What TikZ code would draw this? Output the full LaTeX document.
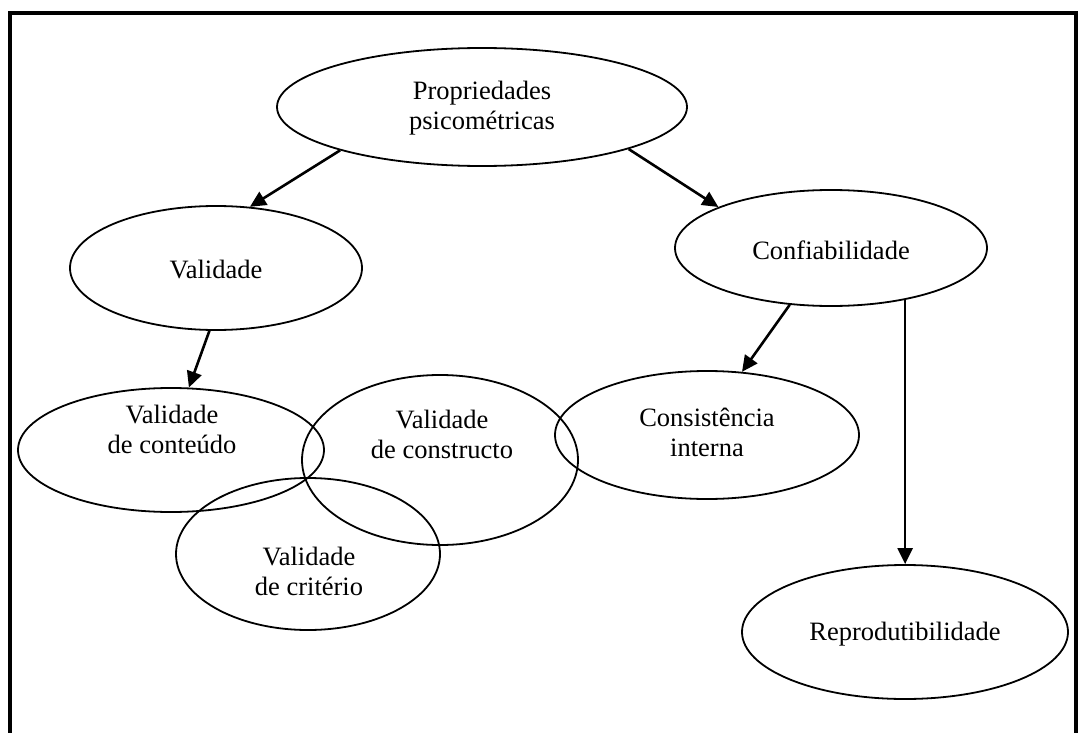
\documentclass[tikz,border=0pt]{standalone}
\usepackage{fontspec}
\setmainfont{Liberation Serif}
\usetikzlibrary{shapes.geometric,arrows.meta}

\tikzset{
  oval/.style={ellipse, draw, line width=1.8pt, inner sep=0pt},
  label text/.style={align=center, font=\fontsize{26.5}{30}\selectfont, inner sep=0pt},
  link/.style={line width=2.6pt, -{Triangle[length=16pt,width=15pt]}},
}

\begin{document}
\begin{tikzpicture}[x=1pt,y=-1pt]
\useasboundingbox (0,0) rectangle (1079,733);

% open frame (no bottom edge)
\draw[line width=4pt] (9.5,733) -- (9.5,13.5) -- (1075.5,13.5) -- (1075.5,733);

% ellipses
\node[oval, minimum width=410pt, minimum height=118pt] (prop) at (482,107) {};
\node[oval, minimum width=292pt, minimum height=124pt] (val)  at (216,268) {};
\node[oval, minimum width=312pt, minimum height=116pt] (conf) at (831,248) {};
\node[oval, minimum width=306pt, minimum height=124pt] (vcont) at (171,450) {};
\node[oval, minimum width=276pt, minimum height=170pt] (vcons) at (440,460) {};
\node[oval, minimum width=264pt, minimum height=152pt] (vcrit) at (308,554) {};
\node[oval, minimum width=304pt, minimum height=128pt] (cint) at (707,435) {};
\node[oval, minimum width=326pt, minimum height=134pt] (repr) at (905,632) {};

% texts
\node[label text] (tprop)  at (482,108) {Propriedades\\psicométricas};
\node[label text] (tval)   at (216,270) {Validade};
\node[label text] (tconf)  at (831,250) {Confiabilidade};
\node[label text] (tvcont) at (172,429) {Validade\\de conteúdo};
\node[label text] (tvcons) at (442,434) {Validade\\de constructo};
\node[label text] (tvcrit) at (309,571) {Validade\\de critério};
\node[label text] (tcint)  at (707,432) {Consistência\\interna};
\node[label text] (trepr)  at (905,634) {Reprodutibilidade};

% arrows
\draw[link] (prop.197) -- (val.61);
\draw[link] (prop.344) -- (conf.160);
\draw[link] (val.264) -- (vcont.74);
\draw[link] (conf.234) -- (cint.61);
\draw[link] (conf.325) -- (conf.325 |- repr.north);
\end{tikzpicture}
\end{document}
